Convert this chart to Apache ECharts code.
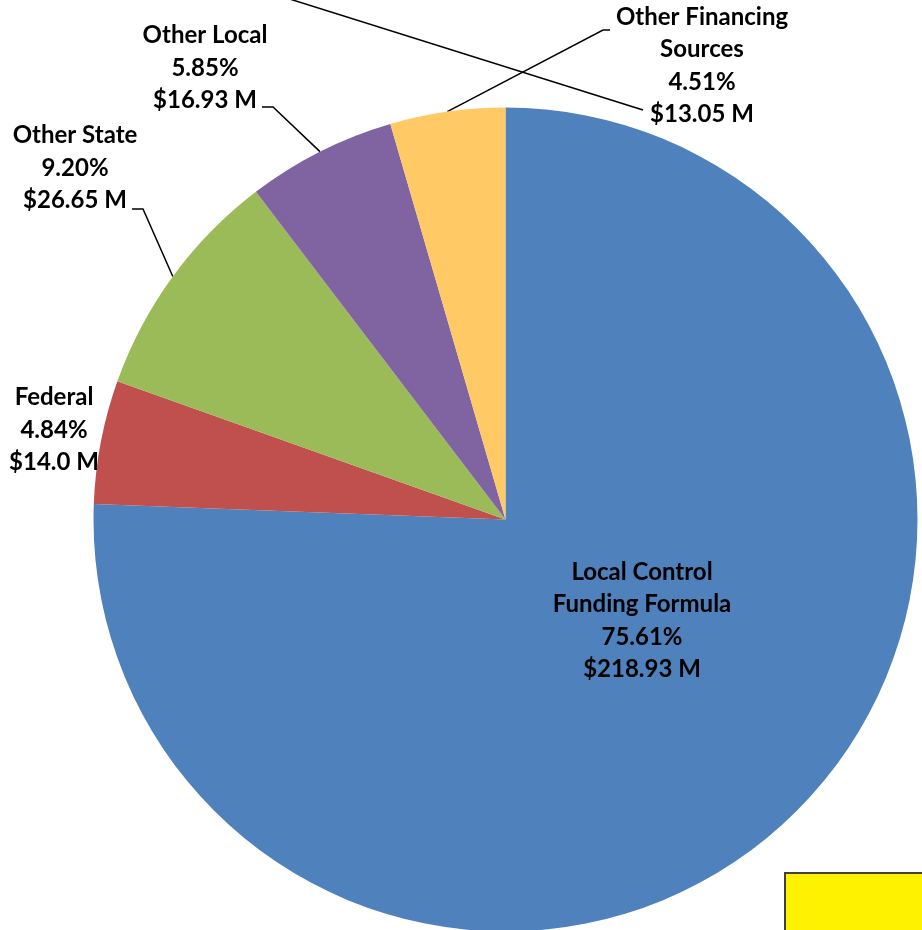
<!DOCTYPE html>
<html>
<head>
<meta charset="utf-8">
<script src="https://cdn.jsdelivr.net/npm/echarts@6/dist/echarts.min.js"></script>
<style>
  html, body { margin: 0; padding: 0; background: #fff; }
  #chart { width: 922px; height: 930px; }
</style>
</head>
<body>
<div id="chart"></div>
<script>
// revenue sources pie
var names = ['Local Control\nFunding Formula', 'Federal', 'Other State', 'Other Local', 'Other Financing\nSources'];
var percents = [75.61, 4.84, 9.20, 5.85, 4.51];
var amounts = ['$218.93 M', '$14.0 M', '$26.65 M', '$16.93 M', '$13.05 M'];
var colors = ['#4F81BD', '#C0504D', '#9BBB59', '#8064A2', '#FFC966'];

// label block centres and leader elbows (layout only)
var labelAt = [[642, 621], [54, 430], [75, 168], [205, 68], [702, 66]];
var leader = [null, null, [[143, 209], [132, 209]], [[273, 107], [262, 107]], [[603, 30], [610, 30]]];

var chart = echarts.init(document.getElementById('chart'), null, { renderer: 'canvas' });

chart.setOption({
  animation: false,
  series: [{
    type: 'pie',
    center: [505.5, 519.5],
    radius: 412,
    startAngle: 90,
    clockwise: true,
    avoidLabelOverlap: false,
    emphasis: { disabled: true },
    label: {
      show: true,
      position: 'outside',
      color: '#000',
      fontFamily: 'Lato',
      fontWeight: 'bold',
      fontSize: 24,
      lineHeight: 32.5,
      align: 'center',
      formatter: function(p) {
        return names[p.dataIndex] + '\n' + percents[p.dataIndex].toFixed(2) + '%\n' + amounts[p.dataIndex];
      }
    },
    labelLine: { show: true, lineStyle: { color: '#000', width: 1.5 } },
    labelLayout: function(p) {
      var i = p.dataIndex;
      var out = { x: labelAt[i][0], y: labelAt[i][1], align: 'center', verticalAlign: 'middle' };
      if (leader[i] && p.labelLinePoints) {
        out.labelLinePoints = [p.labelLinePoints[0], leader[i][0], leader[i][1]];
      }
      return out;
    },
    data: percents.map(function(v, i) {
      var d = { value: v, name: names[i], itemStyle: { color: colors[i] } };
      if (!leader[i]) d.labelLine = { show: false };
      return d;
    })
  }],
  graphic: [
    {
      type: 'polyline',
      shape: { points: [[261, -10], [643, 110]] },
      style: { stroke: '#000', lineWidth: 1.5, fill: null },
      z: 10
    },
    {
      type: 'rect',
      shape: { x: 785, y: 873, width: 150, height: 70 },
      style: { fill: '#FFF200', stroke: '#404040', lineWidth: 2 },
      z: 10
    }
  ]
});
window.addEventListener('resize', function() { chart.resize(); });
</script>
</body>
</html>
